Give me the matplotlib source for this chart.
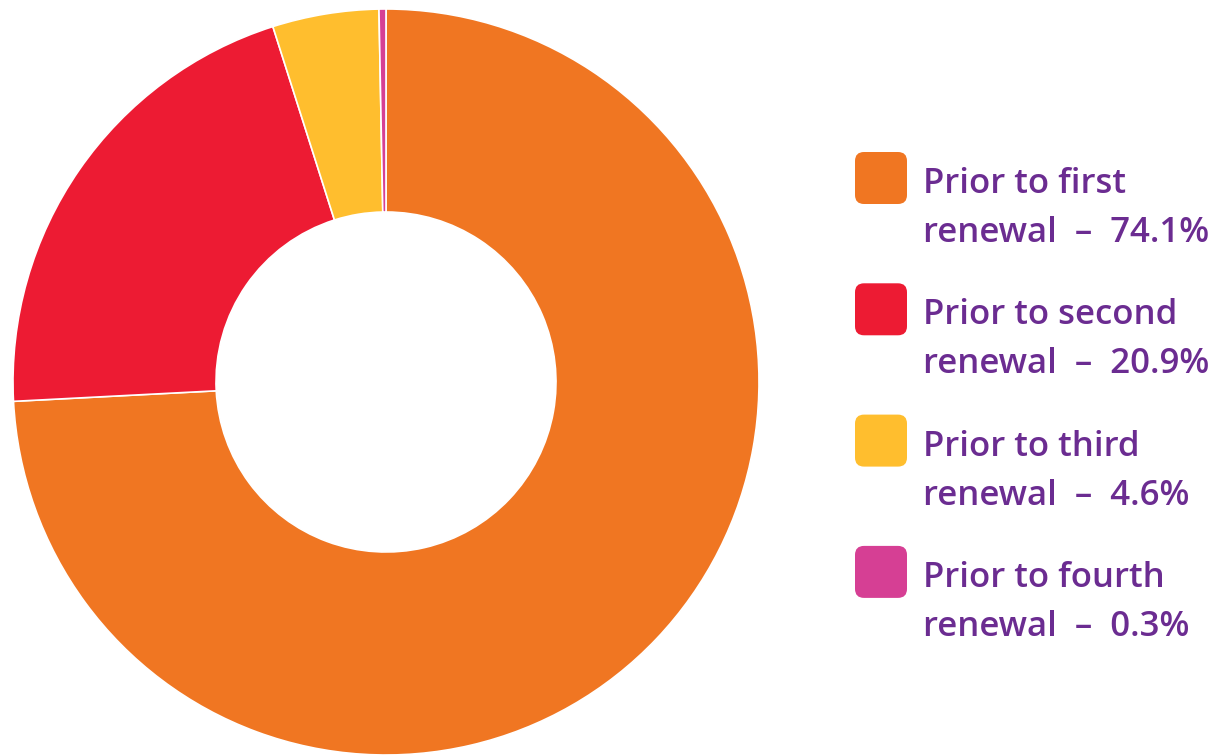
import matplotlib
matplotlib.use("Agg")
import matplotlib.pyplot as plt
from matplotlib.patches import FancyBboxPatch

ordinals = ["first", "second", "third", "fourth"]
values = [74.1, 20.9, 4.6, 0.3]
colors = ["#F07622", "#ED1B33", "#FFBE2E", "#D63F94"]
text_color = "#6B2C91"

W, H = 1223, 755
fig = plt.figure(figsize=(W / 100, H / 100), dpi=100)
fig.patch.set_facecolor("white")

# donut axes in pixel box
x0, y0, x1, y1 = 13, 9, 759, 755
ax = fig.add_axes([x0 / W, 1 - y1 / H, (x1 - x0) / W, (y1 - y0) / H])
ax.pie(values, colors=colors, startangle=90, counterclock=False, radius=1.0,
       wedgeprops=dict(width=1 - 170 / 373, edgecolor="white", linewidth=1.2))
ax.set_xlim(-1, 1)
ax.set_ylim(-1, 1)
ax.set_aspect("equal")
ax.axis("off")

# legend
lax = fig.add_axes([0, 0, 1, 1])
lax.set_xlim(0, W)
lax.set_ylim(H, 0)
lax.axis("off")
sq_x, sq_size = 855, 52
for i, (o, v, c) in enumerate(zip(ordinals, values, colors)):
    top = 152 + i * 131.3
    lax.add_patch(FancyBboxPatch((sq_x + 9, top + 9), sq_size - 18, sq_size - 18,
                                 boxstyle="round,pad=9", facecolor=c, edgecolor="none"))
    lax.text(923, top + 32, f"Prior to {o}", color=text_color, fontsize=25,
             family="Open Sans", fontweight="semibold", va="center", ha="left")
    lax.text(923, top + 81, f"renewal  \u2013  {v}%", color=text_color, fontsize=25,
             family="Open Sans", fontweight="semibold", va="center", ha="left")

fig.savefig("out.png", dpi=100, facecolor="white")
